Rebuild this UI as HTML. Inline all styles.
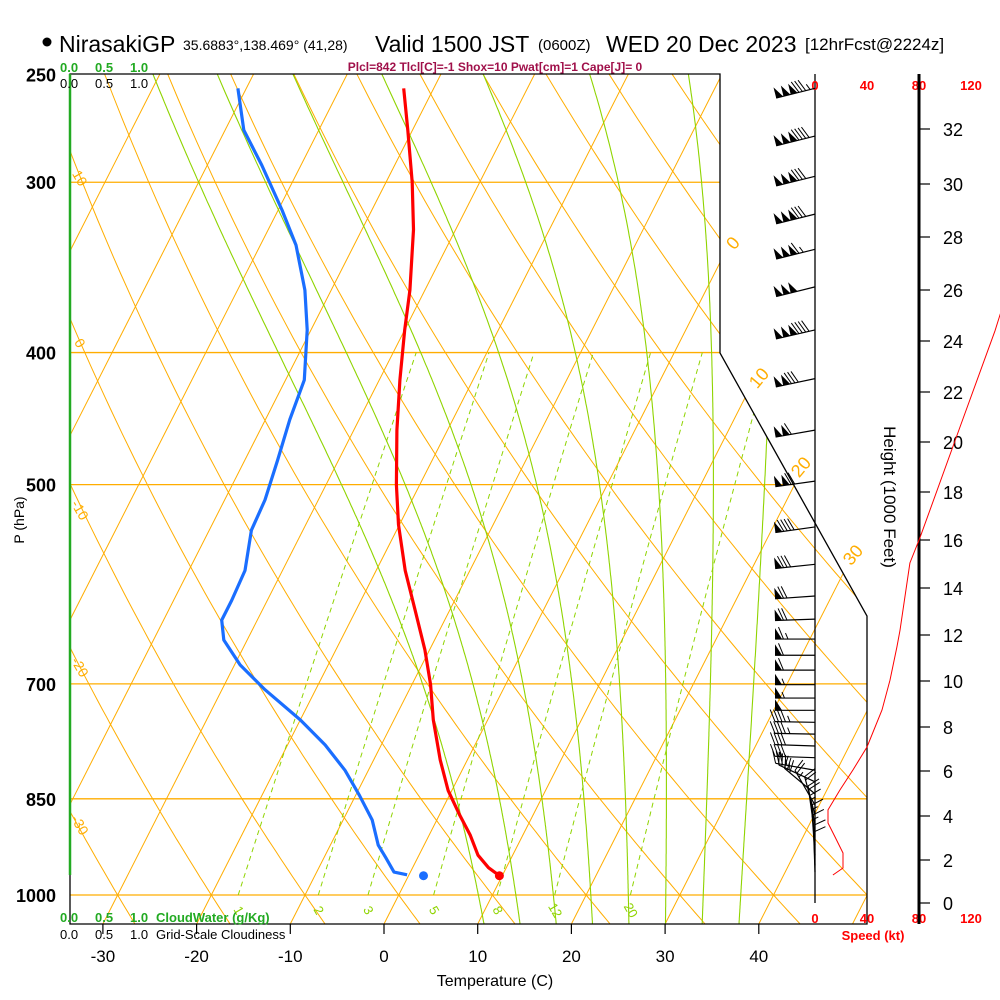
<!DOCTYPE html>
<html><head><meta charset="utf-8"><title>Skew-T NirasakiGP</title>
<style>
html,body{margin:0;padding:0;background:#fff;}
svg{display:block;font-family:"Liberation Sans",Arial,sans-serif;}
</style></head>
<body>
<svg id="chart" width="1000" height="1000" viewBox="0 0 1000 1000" xmlns="http://www.w3.org/2000/svg">
<defs>
<clipPath id="plotclip"><path d="M70,74 L720,74 L720,353 L867,616 L867,924 L70,924 Z"/></clipPath>
</defs>
<rect x="0" y="0" width="1000" height="1000" fill="#fff"/>
<g>
<circle cx="47" cy="42" r="4.5" fill="#000"/>
<text x="59" y="52" font-size="23" fill="#000">NirasakiGP</text>
<text x="183" y="50" font-size="14" fill="#000">35.6883°,138.469° (41,28)</text>
<text x="375" y="52" font-size="23" fill="#000">Valid 1500 JST</text>
<text x="538" y="50" font-size="15" fill="#000">(0600Z)</text>
<text x="606" y="52" font-size="23" fill="#000">WED 20 Dec 2023</text>
<text x="805" y="50" font-size="17" fill="#000">[12hrFcst@2224z]</text>
<text x="495" y="71" font-size="12" font-weight="bold" fill="#a0104a" text-anchor="middle">Plcl=842 Tlcl[C]=-1 Shox=10 Pwat[cm]=1 Cape[J]= 0</text>
</g>
<g id="bg" clip-path="url(#plotclip)"></g>
<g id="profiles"></g>
<g id="axes"></g>
<g id="barbs"></g>
<g id="speed"></g>
</svg>
<script>
// ---- data ----
const tempP = [256,274.7,300,325,360,385,419,456,500,535,578,618,661,701,744,796,838,874,904,935,955,968];
const tempC = [-43.2,-40.5,-37.2,-34.5,-31.6,-30.0,-27.8,-25.4,-22.5,-20.1,-16.9,-13.7,-10.5,-8.0,-5.8,-2.9,-0.4,2.2,4.4,6.3,8.1,9.7];
const dewP = [256,274.7,291.4,314.4,333.6,360,385,419,448,480,513,540,578,608,628.5,650,678,707,744,776,810,845,881,919,939,962,966.5];
const dewC = [-60.9,-58.0,-54.2,-49.6,-46.2,-42.8,-40.4,-38.0,-37.4,-36.5,-35.7,-35.5,-34.0,-33.8,-33.8,-32.5,-29.4,-25.4,-20.0,-16.0,-12.5,-9.6,-6.9,-4.9,-3.4,-1.75,-0.2];
const sfcP = 968;
const sfcT = 9.7;
const sfcTd = 1.6;
const barbP = [256,277.5,297,316.6,336,358,385,418,456,497,537,572,603.5,627.5,649,667,684,701,717,732,747,762,777.5,793,810,826,843,859,874,889,904,919,935,951,962];
const barbSpd = [185,190,180,180,165,150,190,130,110,120,90,80,70,70,65,60,60,55,55,50,45,45,40,40,35,35,30,25,20,20,15,15,15,10,10];
const barbDir = [256,256,256,256,256,256,257,258,260,262,262,264,266,268,270,270,270,270,270,270,271,271,272,272,280,295,310,330,345,350,352,355,356,358,358];
const speedH = [1.30,1.63,2.32,3.05,3.68,4.27,5.16,6.05,7.09,8.74,10.04,11.48,12.2,15.04,16.1,20.6,24.4,25.4];
const speedKt = [13.8,21.5,21.5,15.4,10,10,19.2,29.2,40,51.5,57.7,63,65.4,73,80.8,111.5,138.5,144.6];
const pressTicks = [250,300,400,500,700,850,1000];
const tempTicks = [-30,-20,-10,0,10,20,30,40];
const heightTicks = [0,2,4,6,8,10,12,14,16,18,20,22,24,26,28,30,32];
const mixRatios = [1,2,3,5,8,12,20];
const moistStarts = [8.5,12.5,16.5,20.5,24.5,28.5,32.5,36.5];
const dryLabelsLeft = [10,0,-10,-20,-30];
const dryLabelsRight = [0,10,20,30];
const speedTicks = [0,40,80,120];

// ---- axes ----
const NS="http://www.w3.org/2000/svg";
function yP(p){return 895-592*Math.log(1000/p);}
function xT(T,p){return 384+9.37*T+0.508*(924-yP(p));}
function pY(y){return 1000*Math.exp(-(895-y)/592);}
function xSpd(k){return 815+1.3*k;}
const hPx=[903,860,816,771,727,681,635,588,540,492,442,392,341,290,237,184,129];
function yH(h){let i=Math.min(Math.floor(h/2),hPx.length-2);return hPx[i]+(h-i*2)/2*(hPx[i+1]-hPx[i]);}
function mk(tag,attrs,parent){const e=document.createElementNS(NS,tag);for(const k in attrs)e.setAttribute(k,attrs[k]);parent.appendChild(e);return e;}
const bg=document.getElementById('bg'),prof=document.getElementById('profiles'),ax=document.getElementById('axes'),bb=document.getElementById('barbs'),sp=document.getElementById('speed');
const ORANGE="#ffad00",GREEN="#8fd400";
function ptsStr(a){return a.map(q=>q[0].toFixed(1)+","+q[1].toFixed(1)).join(" ");}

[300,400,500,700,850,1000].forEach(p=>{
 const l=mk('line',{x1:70,x2:1000,y1:yP(p),y2:yP(p),stroke:ORANGE,'stroke-width':1.3},bg);
 
 
});
for(let T=-140;T<=50;T+=10){
 const l=mk('line',{x1:xT(T,1050),y1:yP(1050),x2:xT(T,240),y2:yP(240),stroke:ORANGE,'stroke-width':1},bg);
 
 
}
for(let th=-60;th<=200;th+=10){
 const pts=[];for(let p=1060;p>=240;p-=10){const T=(th+273.15)*Math.pow(p/1000,0.2857)-273.15;pts.push([xT(T,p),yP(p)]);}
 const l=mk('polyline',{points:ptsStr(pts),fill:'none',stroke:ORANGE,'stroke-width':1},bg);
 
 
}
function es(T){return 6.112*Math.exp(17.67*T/(T+243.5));}
function dTdp(Tc,p){const T=Tc+273.15,e=es(Tc),rs=0.622*e/(p-e),Rd=287,cp=1005,Lv=2.5e6;
 return (Rd*T+Lv*rs)/(p*(cp+Lv*Lv*rs*0.622/(Rd*T*T)));}
moistStarts.forEach(t0=>{
 const up=[];let T=t0;for(let p=1000;p>=240;p-=2){up.push([xT(T,p),yP(p)]);T-=dTdp(T,p)*2;}
 const dn=[];T=t0;for(let p=1000;p<=1060;p+=2){dn.unshift([xT(T,p),yP(p)]);T+=dTdp(T,p)*2;}
 const l=mk('polyline',{points:ptsStr(dn.concat(up)),fill:'none',stroke:GREEN,'stroke-width':1.1},bg);
 
 
});
function tdW(w,p){const e=w*p/(622+w),L=Math.log(e/6.112);return 243.5*L/(17.67-L);}
mixRatios.forEach(w=>{
 const pts=[];for(let p=1000;p>=400;p-=10)pts.push([xT(tdW(w,p),p),yP(p)]);
 const l=mk('polyline',{points:ptsStr(pts),fill:'none',stroke:GREEN,'stroke-width':1,'stroke-dasharray':'5,4'},bg);
 
 
 const x=xT(tdW(w,1000),1000)+1;
 const t=mk('text',{x:x,y:915,'font-size':13,fill:GREEN,'text-anchor':'middle',transform:'rotate(60 '+x+' 910)'},bg);
 t.textContent=w;
 
 
});
const leftY=[178,343,510,667,825];
dryLabelsLeft.forEach((v,i)=>{
 const t=mk('text',{x:80,y:leftY[i]+5,'font-size':14,fill:ORANGE,'text-anchor':'middle',transform:'rotate(60 80 '+leftY[i]+')'},ax);
 t.textContent=v;
 
 
});
const rightXY=[[733,243],[759,378],[801,467],[853,555]];
dryLabelsRight.forEach((v,i)=>{
 const [x,y]=rightXY[i];
 const t=mk('text',{x:x,y:y+6,'font-size':18,fill:ORANGE,'text-anchor':'middle',transform:'rotate(-50 '+x+' '+y+')'},ax);
 t.textContent=v;
 
 
});

const frame=mk('path',{d:'M70,74 L720,74 L720,353 L867,616 L867,924 L70,924 Z',fill:'none',stroke:'#000','stroke-width':1.3},ax);


const cw=mk('line',{x1:70,y1:74,x2:70,y2:875,stroke:'#22aa22','stroke-width':2.5},ax);


pressTicks.forEach(p=>{
 const t=mk('text',{x:56,y:yP(p)+7,'font-size':18,'font-weight':'bold','text-anchor':'end',fill:'#000'},ax);
 t.textContent=p;
 
 
});
tempTicks.forEach(T=>{
 const x=xT(T,pY(924));
 const l=mk('line',{x1:x,y1:924,x2:x,y2:934,stroke:'#000','stroke-width':1.2},ax);
 
 
 const t=mk('text',{x:x,y:962,'font-size':17,'text-anchor':'middle',fill:'#000'},ax);
 t.textContent=T;
 
 
});
function txt(x,y,s,str,attrs,name){const t=mk('text',Object.assign({x:x,y:y,'font-size':s},attrs||{}),ax);t.textContent=str;
 
 return t;}
txt(495,986,16,'Temperature (C)',{'text-anchor':'middle'},'x-axis-title');
txt(24,520,14,'P (hPa)',{'text-anchor':'middle',transform:'rotate(-90 24 520)'},'y-axis-title');
txt(60,72,13,'0.0',{fill:'#22aa22','font-weight':'bold'},'cloudwater-scale-top');
txt(95,72,13,'0.5',{fill:'#22aa22','font-weight':'bold'},'cloudwater-scale-top');
txt(130,72,13,'1.0',{fill:'#22aa22','font-weight':'bold'},'cloudwater-scale-top');
txt(60,88,13,'0.0',{},'cloudiness-scale-top');
txt(95,88,13,'0.5',{},'cloudiness-scale-top');
txt(130,88,13,'1.0',{},'cloudiness-scale-top');
txt(60,922,13,'0.0',{fill:'#22aa22','font-weight':'bold'},'cloudwater-scale-bottom');
txt(95,922,13,'0.5',{fill:'#22aa22','font-weight':'bold'},'cloudwater-scale-bottom');
txt(130,922,13,'1.0',{fill:'#22aa22','font-weight':'bold'},'cloudwater-scale-bottom');
txt(156,922,13,'CloudWater (g/Kg)',{fill:'#22aa22','font-weight':'bold'},'cloudwater-legend');
txt(60,939,13,'0.0',{},'cloudiness-scale-bottom');
txt(95,939,13,'0.5',{},'cloudiness-scale-bottom');
txt(130,939,13,'1.0',{},'cloudiness-scale-bottom');
txt(156,939,13,'Grid-Scale Cloudiness',{},'cloudiness-legend');
const sa=mk('line',{x1:815,y1:74,x2:815,y2:903,stroke:'#000','stroke-width':1.3},ax);


speedTicks.forEach(k=>{
 txt(xSpd(k),90,13,k,{fill:'#f00','text-anchor':'middle','font-weight':'bold'},'speed-tick-label-top');
 txt(xSpd(k),923,13,k,{fill:'#f00','text-anchor':'middle','font-weight':'bold'},'speed-tick-label-bottom');
});
txt(873,940,13,'Speed (kt)',{fill:'#f00','text-anchor':'middle','font-weight':'bold'},'speed-axis-title');
const ha=mk('line',{x1:919,y1:74,x2:919,y2:924,stroke:'#000','stroke-width':3},ax);


heightTicks.forEach(h=>{
 const y=yH(h);
 const l=mk('line',{x1:919,y1:y,x2:930,y2:y,stroke:'#000','stroke-width':1.2},ax);
 
 
 txt(943,y+7,18,h,{},'height-tick-label');
});
txt(884,497,17,'Height (1000 Feet)',{'text-anchor':'middle',transform:'rotate(90 884 497)'},'height-axis-title');

function prof_line(P,T,color,name){
 const pts=P.map((p,i)=>[xT(T[i],p),yP(p)]);
 const l=mk('polyline',{points:ptsStr(pts),fill:'none',stroke:color,'stroke-width':3.2,'stroke-linejoin':'round'},prof);
 
 
}
prof_line(tempP,tempC,'#ff0000','temperature-line');
prof_line(dewP,dewC,'#1a6eff','dewpoint-line');
const sd=mk('circle',{cx:xT(sfcT,sfcP),cy:yP(sfcP),r:4.5,fill:'#ff0000'},prof);


const sdd=mk('circle',{cx:xT(sfcTd,sfcP),cy:yP(sfcP),r:4.5,fill:'#1a6eff'},prof);



barbP.forEach((p,i)=>{
 const by=yP(p),bx=815,d=barbDir[i]*Math.PI/180,L=40;
 const u=[Math.sin(d),-Math.cos(d)],n=[-u[1],u[0]];
 const tx=bx+u[0]*L,ty=by+u[1]*L;
 const g=mk('g',{},bb);
 
 
 mk('line',{x1:bx,y1:by,x2:tx,y2:ty,stroke:'#000','stroke-width':1.2},g);
 let s=Math.round(barbSpd[i]/5)*5,off=0;
 while(s>=50){
  const a=[tx-u[0]*off,ty-u[1]*off],b=[tx-u[0]*(off+7),ty-u[1]*(off+7)],c=[a[0]+n[0]*11,a[1]+n[1]*11];
  mk('polygon',{points:ptsStr([a,b,c]),fill:'#000'},g);off+=7.5;s-=50;}
  if(off>0)off+=1;
 while(s>=10){
  const a=[tx-u[0]*off,ty-u[1]*off];
  mk('line',{x1:a[0],y1:a[1],x2:a[0]+n[0]*12+u[0]*5,y2:a[1]+n[1]*12+u[1]*5,stroke:'#000','stroke-width':1},g);off+=3.5;s-=10;}
 if(s>=5){const a=[tx-u[0]*(off+1),ty-u[1]*(off+1)];
  mk('line',{x1:a[0],y1:a[1],x2:a[0]+n[0]*6+u[0]*2.5,y2:a[1]+n[1]*6+u[1]*2.5,stroke:'#000','stroke-width':1},g);}
});

const spPts=speedH.map((h,i)=>[xSpd(speedKt[i]),yH(h)]);
const spl=mk('polyline',{points:ptsStr(spPts),fill:'none',stroke:'#f00','stroke-width':1},sp);


</script>
</body></html>
